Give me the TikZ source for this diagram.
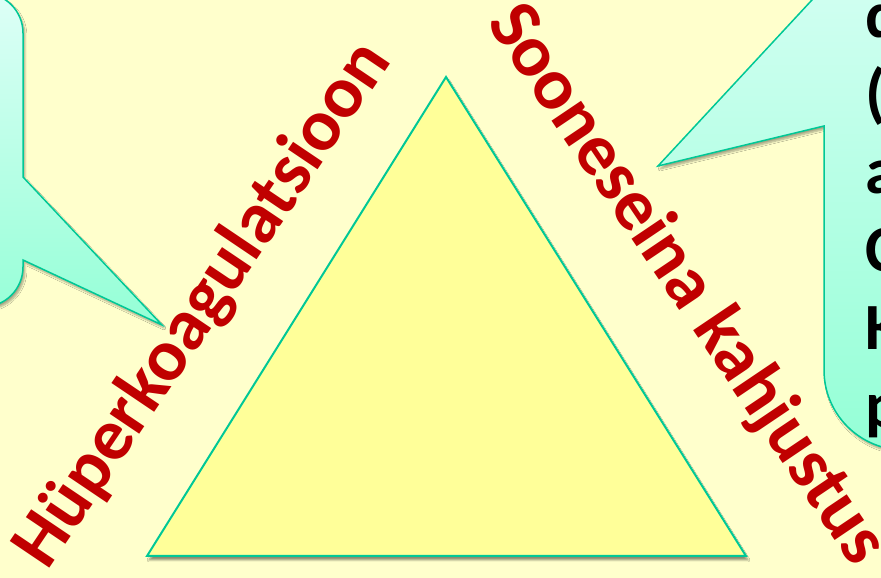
\documentclass[tikz,border=0pt]{standalone}
\usepackage{fontspec}
\setmainfont{Carlito}
\usetikzlibrary{shadows.blur}
\definecolor{bgc}{RGB}{255,255,204}
\definecolor{trifill}{RGB}{255,255,153}
\definecolor{edgec}{RGB}{0,200,150}
\definecolor{ctop}{RGB}{222,255,247}
\definecolor{cbot}{RGB}{148,255,214}
\definecolor{redt}{RGB}{192,0,0}
\tikzset{
  calloutshape/.style={draw=edgec, line width=1.5pt, line join=miter,
    blur shadow={shadow xshift=2pt, shadow yshift=-3pt, shadow blur steps=6, shadow opacity=35}},
  redlabel/.style={text=redt, font=\fontsize{73.5}{80}\selectfont\bfseries, inner sep=0pt},
  calltext/.style={text=black, font=\fontsize{66}{78}\selectfont\bfseries, inner sep=0pt, anchor=base west},
}
\begin{document}
\begin{tikzpicture}[x=1pt,y=1pt]
\useasboundingbox (0,0) rectangle (881,578);
\clip (0,0) rectangle (881,578);
\fill[bgc] (0,0) rectangle (881,578);
% triangle
\draw[draw=edgec, fill=trifill, line width=2pt, line join=miter,
  blur shadow={shadow xshift=2pt, shadow yshift=-4pt, shadow blur steps=6, shadow opacity=45}]
  (446,501) coordinate (apex) -- (746,22) coordinate (br) -- (147,22) coordinate (bl) -- cycle;
% left callout
\draw[calloutshape, top color=ctop, bottom color=cbot]
  (-120,585) -- (-17,585) arc[start angle=90,end angle=0,radius=40]
  -- (23,401) -- (162,253) coordinate (ltip) -- (23,318) -- (23,311)
  arc[start angle=0,end angle=-90,radius=40] -- (-120,271) -- cycle;
% right callout
\draw[calloutshape, top color=ctop!85!cbot, bottom color=cbot]
  (1000,608) -- (824,608) -- (824,591) -- (658,412) coordinate (rtip) -- (824,452)
  -- (824,208) arc[start angle=180,end angle=270,radius=80] -- (1000,128) -- cycle;
% callout text
\node[calltext] (r1) at (865,540) {d};
\node[calltext] (r2) at (865,462) {(};
\node[calltext] (r3) at (865,384) {a};
\node[calltext] (r4) at (865,306) {C};
\node[calltext] (r5) at (865,228) {K};
\node[calltext] (r6) at (865,150) {p};
% red labels
\node[redlabel, anchor=base west, rotate=56] (hyper) at (47,6) {Hüperkoagulatsioon};
\node[redlabel, anchor=base west, rotate=-56] (soon) at (486,555) {Sooneseina kahjustus};
\end{tikzpicture}
\end{document}
